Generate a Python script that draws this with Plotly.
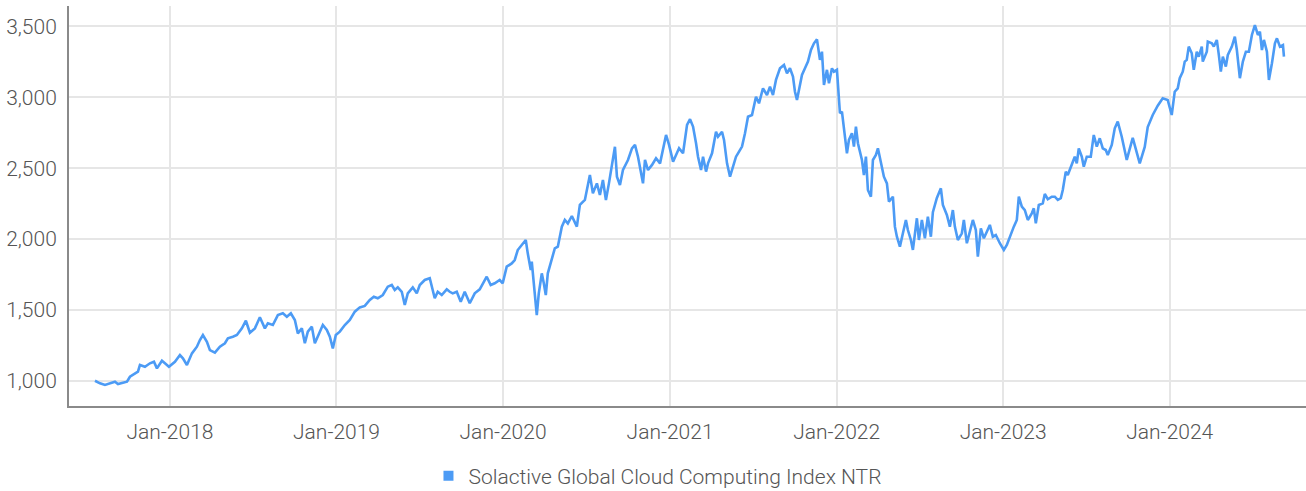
import pandas as pd
import plotly.graph_objects as go

# Index level sampled at decimal-year timestamps
t_years = [
    2017.550, 2017.580, 2017.610, 2017.640, 2017.670, 2017.688, 2017.718, 2017.742, 2017.760, 2017.790,
    2017.808, 2017.820, 2017.850, 2017.880, 2017.904, 2017.922, 2017.952, 2017.970, 2017.994, 2018.030,
    2018.060, 2018.078, 2018.102, 2018.132, 2018.162, 2018.180, 2018.198, 2018.222, 2018.240, 2018.270,
    2018.300, 2018.330, 2018.348, 2018.378, 2018.402, 2018.432, 2018.456, 2018.480, 2018.510, 2018.540,
    2018.570, 2018.588, 2018.618, 2018.648, 2018.678, 2018.702, 2018.726, 2018.750, 2018.768, 2018.792,
    2018.810, 2018.828, 2018.852, 2018.870, 2018.888, 2018.918, 2018.942, 2018.960, 2018.978, 2018.996,
    2019.020, 2019.050, 2019.080, 2019.110, 2019.140, 2019.170, 2019.200, 2019.224, 2019.248, 2019.278,
    2019.308, 2019.332, 2019.350, 2019.368, 2019.392, 2019.410, 2019.428, 2019.458, 2019.482, 2019.500,
    2019.530, 2019.560, 2019.590, 2019.608, 2019.632, 2019.662, 2019.680, 2019.698, 2019.722, 2019.746,
    2019.770, 2019.800, 2019.830, 2019.860, 2019.902, 2019.926, 2019.950, 2019.980, 2019.998, 2020.022,
    2020.052, 2020.070, 2020.088, 2020.112, 2020.136, 2020.148, 2020.166, 2020.172, 2020.190, 2020.202,
    2020.214, 2020.232, 2020.244, 2020.256, 2020.268, 2020.292, 2020.310, 2020.328, 2020.352, 2020.370,
    2020.388, 2020.412, 2020.442, 2020.460, 2020.490, 2020.520, 2020.538, 2020.562, 2020.580, 2020.598,
    2020.616, 2020.634, 2020.652, 2020.670, 2020.682, 2020.700, 2020.718, 2020.748, 2020.772, 2020.790,
    2020.808, 2020.838, 2020.850, 2020.868, 2020.892, 2020.916, 2020.940, 2020.958, 2020.976, 2020.994,
    2021.018, 2021.036, 2021.054, 2021.078, 2021.102, 2021.120, 2021.138, 2021.156, 2021.168, 2021.186,
    2021.198, 2021.216, 2021.228, 2021.252, 2021.276, 2021.288, 2021.312, 2021.324, 2021.342, 2021.360,
    2021.378, 2021.396, 2021.408, 2021.432, 2021.450, 2021.468, 2021.492, 2021.516, 2021.534, 2021.558,
    2021.582, 2021.600, 2021.618, 2021.636, 2021.660, 2021.684, 2021.702, 2021.720, 2021.738, 2021.750,
    2021.762, 2021.774, 2021.792, 2021.810, 2021.828, 2021.846, 2021.864, 2021.882, 2021.900, 2021.912,
    2021.924, 2021.942, 2021.954, 2021.972, 2021.984, 2022.002, 2022.008, 2022.020, 2022.032, 2022.044,
    2022.062, 2022.074, 2022.092, 2022.104, 2022.116, 2022.128, 2022.152, 2022.164, 2022.176, 2022.188,
    2022.206, 2022.218, 2022.236, 2022.248, 2022.266, 2022.284, 2022.302, 2022.314, 2022.338, 2022.350,
    2022.362, 2022.380, 2022.398, 2022.416, 2022.428, 2022.446, 2022.458, 2022.482, 2022.494, 2022.512,
    2022.530, 2022.548, 2022.566, 2022.578, 2022.602, 2022.626, 2022.638, 2022.662, 2022.680, 2022.698,
    2022.710, 2022.728, 2022.752, 2022.764, 2022.782, 2022.800, 2022.818, 2022.836, 2022.848, 2022.866,
    2022.884, 2022.902, 2022.920, 2022.938, 2022.956, 2022.980, 2023.004, 2023.022, 2023.046, 2023.064,
    2023.082, 2023.094, 2023.112, 2023.130, 2023.148, 2023.172, 2023.184, 2023.196, 2023.214, 2023.238,
    2023.250, 2023.268, 2023.292, 2023.310, 2023.328, 2023.346, 2023.358, 2023.376, 2023.388, 2023.412,
    2023.430, 2023.442, 2023.454, 2023.472, 2023.484, 2023.502, 2023.526, 2023.544, 2023.562, 2023.580,
    2023.598, 2023.616, 2023.628, 2023.652, 2023.670, 2023.688, 2023.712, 2023.742, 2023.778, 2023.820,
    2023.850, 2023.868, 2023.898, 2023.928, 2023.958, 2023.988, 2024.012, 2024.030, 2024.048, 2024.060,
    2024.078, 2024.090, 2024.102, 2024.114, 2024.132, 2024.144, 2024.162, 2024.174, 2024.192, 2024.198,
    2024.222, 2024.228, 2024.252, 2024.264, 2024.282, 2024.294, 2024.306, 2024.318, 2024.336, 2024.348,
    2024.372, 2024.390, 2024.402, 2024.420, 2024.438, 2024.456, 2024.474, 2024.492, 2024.510, 2024.528,
    2024.540, 2024.552, 2024.564, 2024.582, 2024.594, 2024.612, 2024.630, 2024.642, 2024.660, 2024.678,
    2024.684,
]

index_values = [
    1002, 984, 972, 984, 995, 979, 988, 995, 1030, 1049,
    1066, 1113, 1101, 1125, 1136, 1089, 1143, 1125, 1101, 1136,
    1183, 1160, 1113, 1195, 1242, 1289, 1324, 1277, 1218, 1200,
    1242, 1266, 1301, 1312, 1324, 1371, 1425, 1340, 1371, 1449,
    1371, 1407, 1395, 1465, 1477, 1453, 1477, 1430, 1336, 1371,
    1266, 1348, 1383, 1266, 1312, 1395, 1360, 1312, 1230, 1324,
    1348, 1395, 1430, 1489, 1519, 1529, 1571, 1594, 1583, 1606,
    1665, 1677, 1642, 1660, 1629, 1536, 1618, 1660, 1618, 1677,
    1712, 1724, 1583, 1629, 1606, 1646, 1629, 1618, 1629, 1559,
    1629, 1548, 1618, 1646, 1735, 1677, 1689, 1712, 1689, 1806,
    1829, 1853, 1923, 1959, 1994, 1900, 1783, 1841, 1618, 1465,
    1618, 1759, 1689, 1606, 1759, 1853, 1935, 1947, 2088, 2135,
    2111, 2163, 2088, 2241, 2276, 2452, 2323, 2393, 2311, 2417,
    2276, 2393, 2534, 2651, 2440, 2382, 2487, 2558, 2640, 2664,
    2581, 2393, 2558, 2487, 2523, 2570, 2534, 2640, 2734, 2664,
    2546, 2593, 2640, 2605, 2805, 2845, 2793, 2676, 2581, 2487,
    2581, 2476, 2534, 2605, 2757, 2722, 2757, 2699, 2534, 2440,
    2511, 2581, 2605, 2652, 2746, 2863, 2875, 3004, 2957, 3063,
    3016, 3075, 3016, 3122, 3204, 3228, 3169, 3204, 3145, 3039,
    2981, 3063, 3157, 3204, 3251, 3333, 3380, 3408, 3263, 3321,
    3087, 3193, 3099, 3204, 3180, 3193, 3110, 2887, 2898, 2769,
    2605, 2699, 2746, 2652, 2793, 2676, 2558, 2452, 2581, 2346,
    2299, 2558, 2593, 2640, 2534, 2440, 2393, 2264, 2299, 2088,
    2017, 1947, 2041, 2135, 2064, 1994, 1924, 2147, 1994, 2135,
    2006, 2158, 2017, 2190, 2290, 2358, 2241, 2170, 2088, 2205,
    2088, 1994, 2041, 2135, 1971, 2052, 2135, 2064, 1876, 2076,
    2006, 2052, 2100, 2017, 2029, 1971, 1924, 1959, 2041, 2088,
    2135, 2299, 2229, 2205, 2135, 2182, 2217, 2111, 2241, 2252,
    2318, 2281, 2299, 2299, 2276, 2288, 2346, 2476, 2452, 2534,
    2581, 2534, 2640, 2581, 2511, 2581, 2581, 2734, 2652, 2711,
    2640, 2628, 2593, 2664, 2781, 2828, 2722, 2558, 2713, 2534,
    2650, 2790, 2875, 2940, 2992, 2981, 2875, 3039, 3063, 3134,
    3180, 3251, 3263, 3357, 3310, 3193, 3321, 3286, 3357, 3251,
    3321, 3392, 3380, 3357, 3404, 3298, 3180, 3286, 3216, 3298,
    3357, 3427, 3333, 3134, 3251, 3321, 3321, 3439, 3509, 3439,
    3462, 3333, 3404, 3321, 3122, 3240, 3380, 3415, 3357, 3368,
    3286,
]

series_name = "Solactive Global Cloud Computing Index NTR"
y_ticks = [1000, 1500, 2000, 2500, 3000, 3500]
x_range_years = [2017.394, 2024.816]
y_range = [824, 3643]

LINE_COLOR = "#4c9bf5"
FONT = "Roboto"


def to_datetime(year_frac):
    year = int(year_frac)
    start = pd.Timestamp(year=year, month=1, day=1)
    end = pd.Timestamp(year=year + 1, month=1, day=1)
    return start + (end - start) * (year_frac - year)


dates = [to_datetime(t) for t in t_years]

fig = go.Figure()
fig.add_trace(go.Scatter(
    x=dates, y=index_values, mode="lines",
    line=dict(color=LINE_COLOR, width=2.6),
    name=series_name, showlegend=False,
))
# legend entry drawn with a square swatch
fig.add_trace(go.Scatter(
    x=[None], y=[None], mode="markers",
    marker=dict(symbol="square", size=10, color=LINE_COLOR),
    name=series_name, showlegend=True,
))

fig.update_layout(
    width=1306, height=491,
    margin=dict(l=69, r=0, t=6, b=85, autoexpand=False),
    paper_bgcolor="white", plot_bgcolor="white",
    font=dict(family=FONT, size=21, color="#555555", weight=300),
    showlegend=True,
    legend=dict(
        orientation="h", x=0.2906, xanchor="left", y=-0.175, yanchor="middle",
        font=dict(family=FONT, size=21, color="#555555", weight=300),
        itemwidth=30, bgcolor="rgba(0,0,0,0)",
    ),
    xaxis=dict(
        type="date",
        range=[to_datetime(x_range_years[0]), to_datetime(x_range_years[1])],
        tick0="2018-01-01", dtick="M12", tickformat="%b-%Y",
        showgrid=True, gridcolor="#e6e6e6", gridwidth=2,
        showline=True, linecolor="#8a8a8a", linewidth=2,
        ticks="", ticklabelstandoff=6, zeroline=False,
    ),
    yaxis=dict(
        range=y_range, tickvals=y_ticks, tickformat=",d",
        showgrid=True, gridcolor="#e6e6e6", gridwidth=2,
        showline=True, linecolor="#8a8a8a", linewidth=2,
        ticks="", ticklabelstandoff=6, zeroline=False,
    ),
)

fig.write_html("out.html")
